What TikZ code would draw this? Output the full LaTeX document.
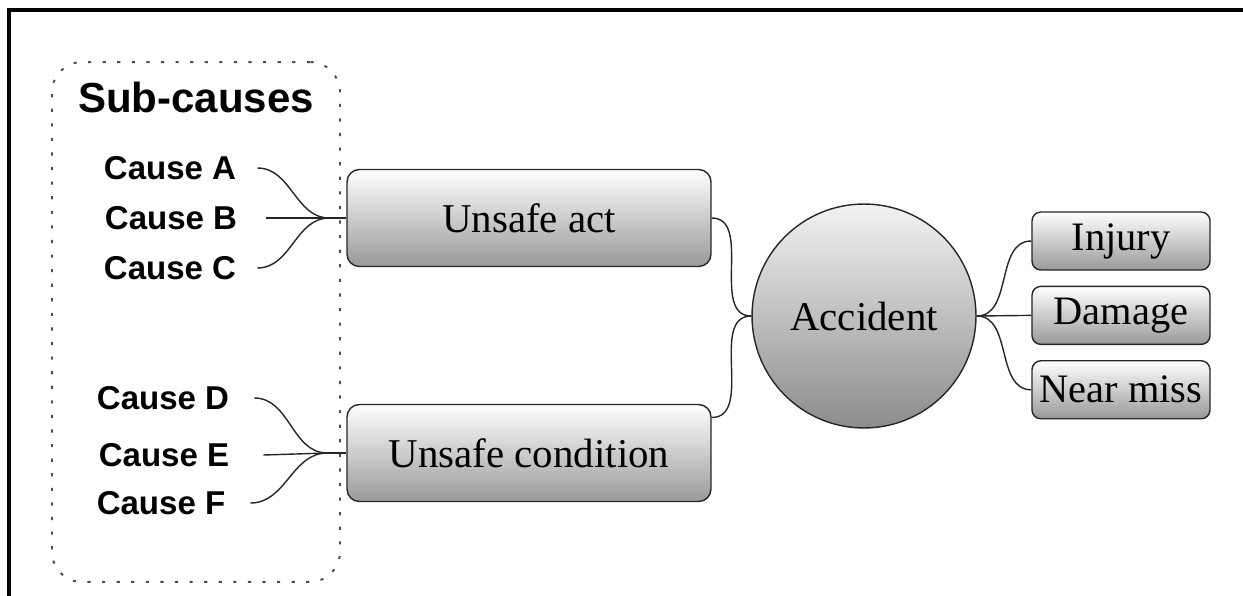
\documentclass[tikz,border=0pt]{standalone}
\usepackage{fontspec}
\setmainfont{Liberation Serif}
\setsansfont{Liberation Sans}
\usetikzlibrary{positioning}

\begin{document}
\begin{tikzpicture}[x=0.02cm, y=-0.02cm,
  cause/.style={font=\sffamily\bfseries\fontsize{18.8}{20}\selectfont},
  mainbox/.style={rectangle, rounded corners=7pt, draw=black!85, line width=0.8pt,
                  top color=white, bottom color=black!40, minimum width=7.28cm,
                  minimum height=1.94cm, font=\fontsize{23.3}{25}\selectfont},
  outbox/.style={rectangle, rounded corners=5pt, draw=black!85, line width=0.8pt,
                 top color=white, bottom color=black!40, minimum width=3.56cm,
                 minimum height=1.16cm, inner sep=1pt, font=\fontsize{23}{25}\selectfont},
  hub/.style={circle, draw=black!85, line width=0.8pt, top color=black!5,
              bottom color=black!45, minimum size=4.48cm, inner sep=0pt,
              font=\fontsize{23.3}{25}\selectfont},
  subbox/.style={rectangle, rounded corners=0.6cm, draw=black!70, line width=1.1pt,
                 dash pattern=on 1.8pt off 6.5pt},
  link/.style={line width=0.8pt, black!85}
]
  \useasboundingbox (0,0) rectangle (1243,595);
  \draw[line width=2.3pt] (9,620) -- (9,10) -- (1270,10);

  % sub-causes group
  \node[subbox, minimum width=5.76cm, minimum height=10.4cm] (subs) at (196,322) {};
  \node[font=\sffamily\bfseries\fontsize{23.9}{26}\selectfont] (title) at (196,97) {Sub-causes};
  \node[cause] (ca) at (170,168) {Cause A};
  \node[cause] (cb) at (171,218) {Cause B};
  \node[cause] (cc) at (170,268) {Cause C};
  \node[cause] (cd) at (163,398) {Cause D};
  \node[cause] (ce) at (164,455) {Cause E};
  \node[cause] (cf) at (161,503) {Cause F};

  % main nodes
  \node[mainbox] (act)  at (529,218) {Unsafe act};
  \node[mainbox] (cond) at (529,453) {Unsafe condition};
  \node[hub]     (acc)  at (864,316) {Accident};

  \node[outbox] (inj) at (1121,241) {Injury};
  \node[outbox, below=0.3cm of inj] (dmg) {Damage};
  \node[outbox, below=0.3cm of dmg] (nmiss) {Near miss};

  \coordinate (jact)  at ([xshift=-0.34cm]act.west);
  \coordinate (jcond) at ([xshift=-0.38cm]cond.west);

  \draw[link] ([xshift=0.3cm]ca.east) to[out=0,in=180] (jact);
  \draw[link] ([xshift=0.45cm]cb.east) -- (jact);
  \draw[link] ([xshift=0.3cm]cc.east) to[out=0,in=180] (jact);
  \draw[link] (jact) -- (act.west);
  \draw[link] ([xshift=0.38cm]cd.east) to[out=0,in=180] (jcond);
  \draw[link] ([xshift=0.56cm]ce.east) -- (jcond);
  \draw[link] ([xshift=0.38cm]cf.east) to[out=0,in=180] (jcond);
  \draw[link] (jcond) -- (cond.west);

  \draw[link] (act.east) to[out=0,in=180] (acc.west);
  \draw[link] (cond.11) to[out=0,in=180] (acc.west);

  \draw[link] (acc.east) to[out=0,in=180] (inj.west);
  \draw[link] (acc.east) -- (dmg.west);
  \draw[link] (acc.east) to[out=0,in=180] (nmiss.west);
\end{tikzpicture}
\end{document}
